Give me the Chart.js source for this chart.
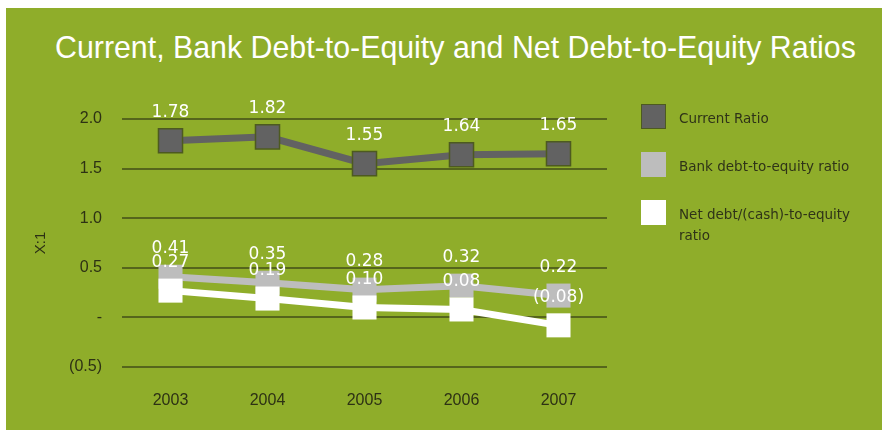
<!DOCTYPE html>
<html>
<head>
<meta charset="utf-8">
<script src="https://cdn.jsdelivr.net/npm/chart.js@4"></script>
<style>
    body { margin: 0; background: #fff; width: 882px; height: 430px; overflow: hidden; position: relative; }
    #panel { position: absolute; left: 6px; top: 8px; width: 876px; height: 422px; background: #8fad2a; }
    #title { position: absolute; left: 49px; top: 21px; color: #fff; font: 32px 'Liberation Sans', sans-serif; white-space: nowrap; transform-origin: 0 0; }
    #chart { position: absolute; left: 0; top: 0; }
    #legend { position: absolute; left: 635px; top: 96px; font: 13.5px 'DejaVu Sans', sans-serif; color: #2f3318; }
    .item { position: relative; height: 48px; }
    .box { position: absolute; left: 0; top: 0; width: 25px; height: 25px; box-sizing: border-box; }
    .txt { position: absolute; left: 38px; top: 4px; width: 200px; line-height: 21px; }
</style>
</head>
<body>
<div id="panel">
    <div id="title">Current, Bank Debt-to-Equity and Net Debt-to-Equity Ratios</div>
    <canvas id="chart" width="876" height="422"></canvas>
    <div id="legend"></div>
</div>
<script>
const years = ['2003', '2004', '2005', '2006', '2007'];
const currentRatio = [1.78, 1.82, 1.55, 1.64, 1.65];
const bankDebtEquity = [0.41, 0.35, 0.28, 0.32, 0.22];
const netDebtEquity = [0.27, 0.19, 0.10, 0.08, -0.08];
const seriesNames = ['Current Ratio', 'Bank debt-to-equity ratio', 'Net debt/(cash)-to-equity ratio'];
const yTickLabels = { '2': '2.0', '1.5': '1.5', '1': '1.0', '0.5': '0.5', '0': '-', '-0.5': '(0.5)' };

const colors = ['#626262', '#bdbdbd', '#ffffff'];
const borders = ['#4d5a20', '#bdbdbd', '#ffffff'];

// squeeze the title to the narrow width of the original
const title = document.getElementById('title');
title.style.transform = 'scaleX(' + (801 / title.offsetWidth) + ')';

function fmt(v) {
    const s = Math.abs(v).toFixed(2);
    return v < 0 ? '(' + s + ')' : s;
}

// value labels above each marker
const valueLabels = {
    id: 'valueLabels',
    afterDatasetsDraw(chart) {
        const ctx = chart.ctx;
        ctx.save();
        ctx.fillStyle = '#fff';
        ctx.font = '17px "DejaVu Sans", sans-serif';
        ctx.textAlign = 'center';
        ctx.textBaseline = 'middle';
        chart.data.datasets.forEach((ds, i) => {
            chart.getDatasetMeta(i).data.forEach((pt, j) => {
                ctx.fillText(fmt(ds.data[j]), pt.x, pt.y - 28);
            });
        });
        ctx.restore();
    }
};

const makeSet = (label, data, i) => ({
    label: label,
    data: data,
    borderColor: colors[i],
    borderWidth: 7,
    pointStyle: 'rect',
    pointRadius: 17,
    pointHoverRadius: 17,
    pointBackgroundColor: colors[i],
    pointBorderColor: borders[i],
    pointBorderWidth: i === 0 ? 1.5 : 0,
    tension: 0,
    clip: false,
    order: 3 - i
});

new Chart(document.getElementById('chart'), {
    type: 'line',
    data: {
        labels: years,
        datasets: [
            makeSet(seriesNames[0], currentRatio, 0),
            makeSet(seriesNames[1], bankDebtEquity, 1),
            makeSet(seriesNames[2], netDebtEquity, 2)
        ]
    },
    options: {
        responsive: false,
        animation: false,
        layout: { padding: { left: 26, right: 275, top: 111, bottom: 0 } },
        plugins: { legend: { display: false }, tooltip: { enabled: false } },
        scales: {
            x: {
                offset: true,
                grid: { display: false, drawTicks: false },
                border: { display: false },
                ticks: { color: '#2d3114', font: { size: 16, family: 'Liberation Sans' }, padding: 24 },
                afterFit(scale) { scale.height = 63; }
            },
            y: {
                min: -0.5,
                max: 2.0,
                grid: { color: '#55651c', lineWidth: 2, drawTicks: false },
                border: { display: false },
                ticks: {
                    stepSize: 0.5,
                    padding: 20,
                    color: '#2d3114',
                    font: { size: 16, family: 'Liberation Sans' },
                    callback: v => yTickLabels[String(v)]
                },
                title: { display: true, text: 'X:1', color: '#2d3114', font: { size: 15, family: 'Liberation Sans' }, padding: 0 },
                afterFit(scale) { scale.width = 90; }
            }
        }
    },
    plugins: [valueLabels]
});

document.getElementById('legend').innerHTML = seriesNames.map((n, i) => `
    <div class="item">
        <div class="box" style="background:${colors[i]};border:${i === 0 ? '1.5px solid ' + borders[i] : 'none'}"></div>
        <div class="txt">${n}</div>
    </div>`).join('');
</script>
</body>
</html>
